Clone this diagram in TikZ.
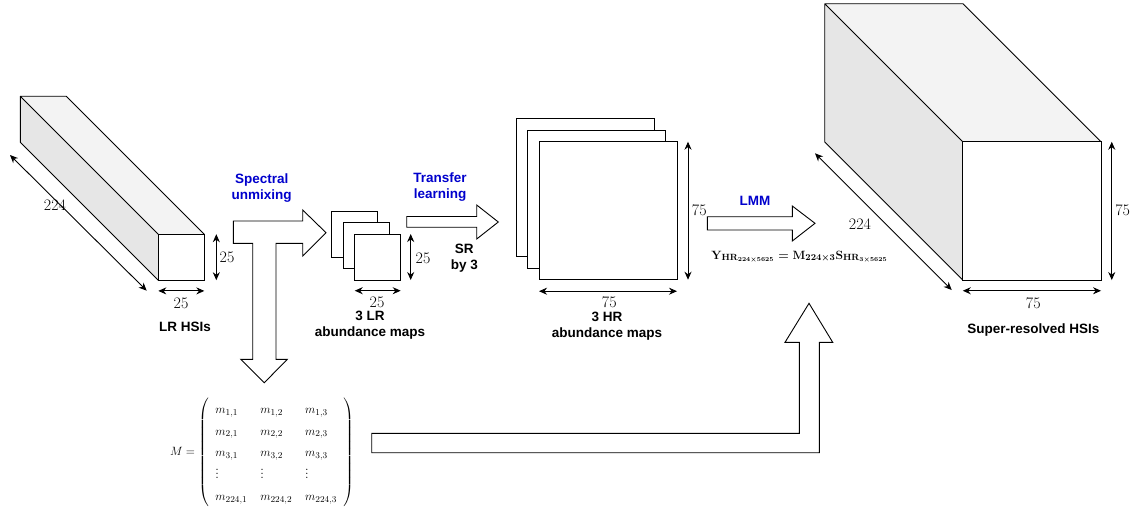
\documentclass[tikz,border=0pt]{standalone}
\usepackage{fontspec}
\usepackage{amsmath}
\newfontfamily\capfont{Liberation Sans}
\usetikzlibrary{arrows.meta,positioning}
\definecolor{StepBlue}{HTML}{0000CC}
\definecolor{SideGray}{HTML}{E6E6E6}
\definecolor{TopGray}{HTML}{F3F3F3}

\begin{document}
\begin{tikzpicture}[x=1pt,y=-1pt,
  face/.style={draw=black,line width=0.9pt,fill=white,inner sep=0pt,outer sep=0pt},
  dim/.style={{Stealth[length=8pt,width=7pt]}-{Stealth[length=8pt,width=7pt]},line width=0.9pt},
  num/.style={font=\fontsize{16}{18}\selectfont,inner sep=0pt},
  caption/.style={font=\capfont\bfseries\fontsize{13.5}{16}\selectfont,align=center,inner sep=0pt},
  stepnote/.style={caption,text=StepBlue},
  blockarrow/.style={draw=black,line width=0.9pt,fill=white,line join=miter}
]
\useasboundingbox (0,0) rectangle (1147,512);

% LR HSIs cuboid
\node[face,minimum size=46pt] (lrfront) at (181.3,257.2) {};
\fill[SideGray] (lrfront.north west) -- ++(-138,-138) -- ++(0,46) -- (lrfront.south west) -- cycle;
\fill[TopGray] (lrfront.north west) -- ++(-138,-138) -- ++(46,0) -- (lrfront.north east) -- cycle;
\draw[line width=0.9pt,line join=round] (lrfront.south west) -- ++(-138,-138) -- ++(0,-46) -- ++(46,0) -- (lrfront.north east)
  (lrfront.north west) -- ++(-138,-138);
\node[face,minimum size=46pt] at (lrfront) {};
\coordinate (lrdiagA) at (10,155);
\coordinate (lrdiagB) at (146.7,290.7);
\draw[dim] (lrdiagA) -- (lrdiagB);
\node[num] at (55,205) {224};
\draw[dim] ([xshift=12pt]lrfront.north east) -- ([xshift=12pt]lrfront.south east);
\node[num] at (227,257) {25};
\draw[dim] ([yshift=-10.7pt]lrfront.south west) -- ([yshift=-10.7pt]lrfront.south east);
\node[num] at (181,303) {25};
\node[caption] at (185,327) {LR HSIs};

% spectral unmixing T arrow
\draw[blockarrow] (233.3,221) -- (302.7,221) -- (302.7,210) -- (326,232.7) -- (302.7,256) -- (302.7,243.3)
  -- (276,243.3) -- (276,359.3) -- (287.3,359.3) -- (264.3,382.7) -- (240.7,359.3) -- (252.7,359.3)
  -- (252.7,243.3) -- (233.3,243.3) -- cycle;
\node[stepnote] at (261.7,188) {Spectral\\unmixing};

% 3 LR abundance maps
\node[face,minimum size=46pt] (lrmapA) at (354.7,234) {};
\node[face,minimum size=46pt] (lrmapB) at (366.3,245.5) {};
\node[face,minimum size=46pt] (lrmapC) at (377.7,257) {};
\draw[dim] ([xshift=10pt]lrmapC.north east) -- ([xshift=10pt]lrmapC.south east);
\node[num] at (423,258) {25};
\draw[dim] ([yshift=-10.7pt]lrmapC.south west) -- ([yshift=-10.7pt]lrmapC.south east);
\node[num] at (377,302) {25};
\node[caption] at (370,325) {3 LR\\abundance maps};

% transfer learning arrow
\draw[blockarrow] (406.7,216.5) -- (476.7,216.5) -- (476.7,205) -- (498.3,222) -- (476.7,239) -- (476.7,227.2)
  -- (406.7,227.2) -- cycle;
\node[stepnote] at (440,187.5) {Transfer\\learning};
\node[caption] at (464.3,257.7) {SR\\by 3};

% 3 HR abundance maps
\node[face,minimum size=138pt] (hrmapA) at (585,187.3) {};
\node[face,minimum size=138pt] (hrmapB) at (596.5,199) {};
\node[face,minimum size=138pt] (hrmapC) at (608,210.7) {};
\draw[dim] ([xshift=11pt]hrmapC.north east) -- ([xshift=11pt]hrmapC.south east);
\node[num] at (699.3,210) {75};
\draw[dim] ([yshift=-11.5pt]hrmapC.south west) -- ([yshift=-11.5pt]hrmapC.south east);
\node[num] at (609.3,302) {75};
\node[caption] at (607,326) {3 HR\\abundance maps};

% LMM arrow
\draw[blockarrow] (707.3,216.7) -- (792.3,216.7) -- (792.3,206) -- (815,223.3) -- (792.3,241) -- (792.3,230)
  -- (707.3,230) -- cycle;
\node[stepnote] at (755,200.7) {LMM};
\node[inner sep=0pt,font=\fontsize{12.7}{14}\selectfont\boldmath] at (799.5,257)
  {$\mathbf{Y}_{\mathbf{HR}_{224\times 5625}}=\mathbf{M}_{224\times 3}\mathbf{S}_{\mathbf{HR}_{3\times 5625}}$};

% super-resolved cuboid
\node[face,minimum size=138.3pt] (srfront) at (1031.9,210.9) {};
\fill[SideGray] (srfront.north west) -- ++(-138,-138) -- ++(0,138.3) -- (srfront.south west) -- cycle;
\fill[TopGray] (srfront.north west) -- ++(-138,-138) -- ++(138.3,0) -- (srfront.north east) -- cycle;
\draw[line width=0.9pt,line join=round] (srfront.south west) -- ++(-138,-138) -- ++(0,-138.3) -- ++(138.3,0) -- (srfront.north east)
  (srfront.north west) -- ++(-138,-138);
\node[face,minimum size=138.3pt] at (srfront) {};
\coordinate (srdiagA) at (815,153.3);
\coordinate (srdiagB) at (951.7,290);
\draw[dim] (srdiagA) -- (srdiagB);
\node[num] at (860,224) {224};
\draw[dim] ([xshift=10.7pt]srfront.north east) -- ([xshift=10.7pt]srfront.south east);
\node[num] at (1122.7,210) {75};
\draw[dim] ([yshift=-10.7pt]srfront.south west) -- ([yshift=-10.7pt]srfront.south east);
\node[num] at (1033.3,303.3) {75};
\node[caption] at (1033.3,330) {Super-resolved HSIs};

% endmember matrix and its path to LMM
\node[inner sep=0pt,font=\fontsize{13}{15.5}\selectfont] (endmat) at (262,452.5)
  {\renewcommand{\arraystretch}{1.4}\setlength{\arraycolsep}{6.5pt}%
   $M=\left(\begin{array}{lll}
     m_{1,1} & m_{1,2} & m_{1,3}\\
     m_{2,1} & m_{2,2} & m_{2,3}\\
     m_{3,1} & m_{3,2} & m_{3,3}\\
     \vdots & \vdots & \vdots\\
     m_{224,1} & m_{224,2} & m_{224,3}
   \end{array}\right)$};
\draw[blockarrow] (371.7,433.3) -- (799.3,433.3) -- (799.3,342.3) -- (785,342.3) -- (809,303.3) -- (832.7,342.3)
  -- (819.3,342.3) -- (819.3,452.7) -- (371.7,452.7) -- cycle;
\end{tikzpicture}
\end{document}
